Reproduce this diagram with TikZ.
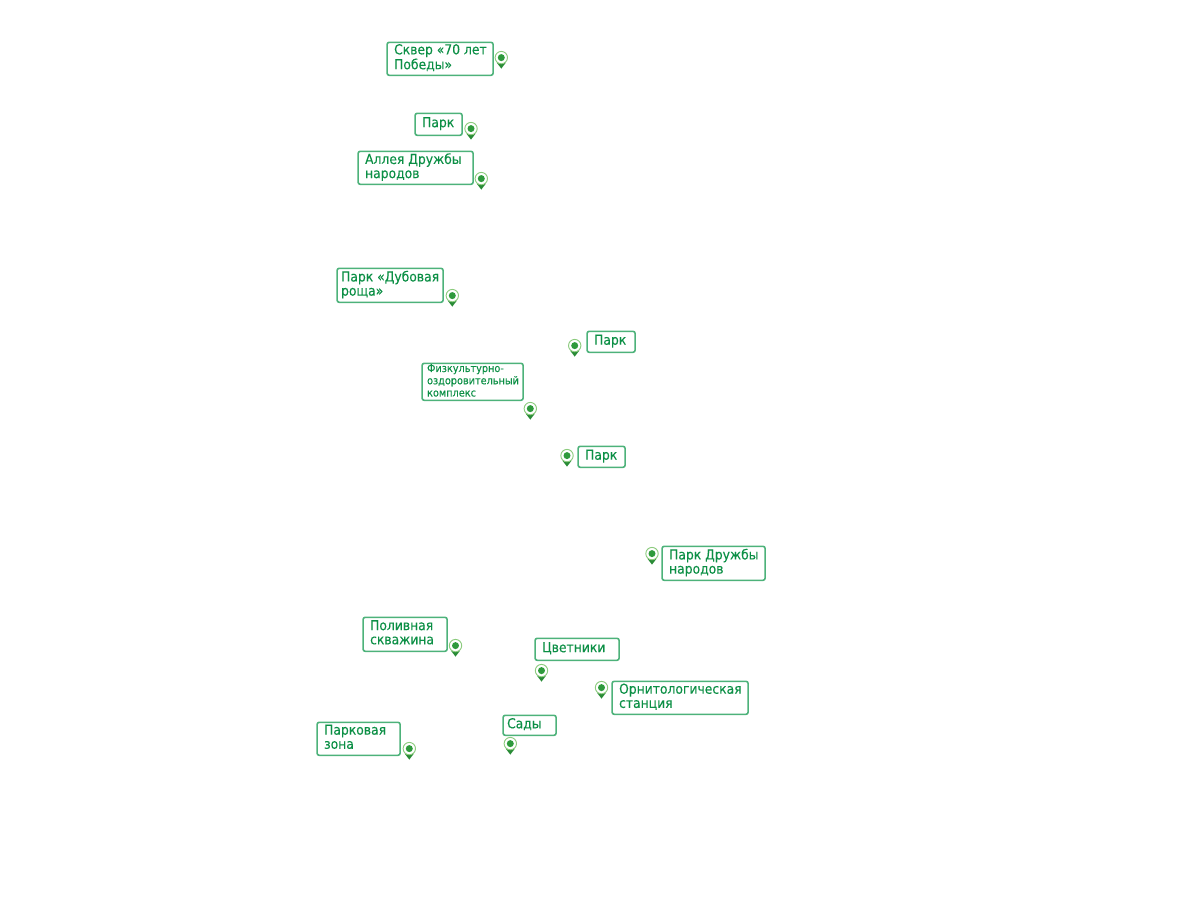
\documentclass[tikz,border=0pt]{standalone}
\usepackage{fontspec}
\setmainfont{DejaVu Sans Condensed}[FakeBold=0.12]
\definecolor{txtg}{HTML}{0B8F45}
\definecolor{boxg}{HTML}{4DB27A}
\definecolor{ringg}{HTML}{8CCB7E}
\definecolor{dotg}{HTML}{2E9A3C}
\newlength{\bw}\newlength{\bh}
% [font size, line skip, left pad] name x0 y0 x1 y1 text
\newcommand{\labelbox}[7][10.3/10.6/5.25]{%
 \pgfmathsetlength{\bw}{(#5-#3)*0.75pt}\pgfmathsetlength{\bh}{(#6-#4)*0.75pt}%
 \lblsetup{#1}%
 \node[lbl,minimum width=\bw,minimum height=\bh] (#2) at ({(#3+#5)/2+0.1},{(#4+#6)/2+0.3}) {\makebox[\bw][l]{\hspace{\lpad}\raisebox{-0.9pt}{\fontsize{\fsz pt}{\lsk pt}\selectfont\begin{tabular}[c]{@{}l@{}}#7\end{tabular}}}};}
\newcommand{\lblsetup}[1]{\lblparse#1\relax}
\def\lblparse#1/#2/#3\relax{\def\fsz{#1}\def\lsk{#2}\def\lpad{#3pt}}
\tikzset{
 lbl/.style={draw=boxg,line width=1.2pt,rounded corners=1.6pt,text=txtg,inner sep=0pt,fill=white},
 pin/.pic={
  \fill[dotg!90!black] (-4.6,5) -- (4.6,5) -- (0,11) -- cycle;
  \draw[ringg,fill=white,line width=0.7pt] (0,0) circle (6.2);
  \fill[dotg] (0,0) circle (3.5);
 }
}
\begin{document}
\begin{tikzpicture}[x=0.75pt,y=-0.75pt]
\useasboundingbox (0,0) rectangle (1200,900);
\labelbox{a}{387}{42}{493}{75}{Сквер «70 лет\\Победы»}
\labelbox{b}{415}{113}{462}{135}{Парк}
\labelbox{c}{358}{151}{473}{184}{Аллея Дружбы\\народов}
\labelbox[10.3/10.6/3]{d}{337}{268}{443}{302}{Парк «Дубовая\\роща»}
\labelbox{e}{587}{331}{635}{352}{Парк}
\labelbox[8.1/9.2/3.75]{f}{422}{363}{523}{400}{Физкультурно-\\оздоровительный\\комплекс}
\labelbox{g}{578}{446}{625}{467}{Парк}
\labelbox{h}{662}{546}{765}{580}{Парк Дружбы\\народов}
\labelbox{i}{363}{617}{447}{651}{Поливная\\скважина}
\labelbox{j}{535}{638}{619}{660}{Цветники}
\labelbox{k}{612}{681}{748}{714}{Орнитологическая\\станция}
\labelbox[10.3/10.6/3]{l}{503}{715}{556}{735}{Сады}
\labelbox{m}{317}{722}{400}{755}{Парковая\\зона}
\foreach \x/\y in {501.3/57.6,471/128.6,481.3/178.6,452.3/295.6,574.7/345.6,530.3/408.6,567/455.6,652/553.6,455.5/645.6,541.5/670.6,601.5/687.6,510.3/743.6,409.3/748.6}
 \pic at (\x,\y) {pin};
\end{tikzpicture}
\end{document}
